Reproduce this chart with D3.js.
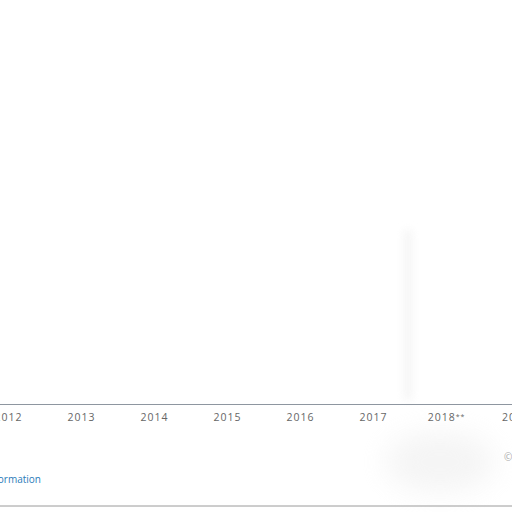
<!DOCTYPE html>
<html><head><meta charset="utf-8">
<script src="https://cdn.jsdelivr.net/npm/d3@7"></script>
<style>html,body{margin:0;padding:0;background:#fff;overflow:hidden}</style>
</head><body>
<svg id="c" width="512" height="512"></svg>
<script>
const categories = ["2011","2012","2013","2014","2015","2016","2017","2018**","2019*"];
const tickLabels = ["2012","2013","2014","2015","2016","2017","2018**","2019*"];
const footerLink = "Additional Information";
const footerCopy = "© Statista 2019";

const svg = d3.select("#c");
const defs = svg.append("defs");
defs.append("filter").attr("id","blur").attr("x","-60%").attr("y","-60%").attr("width","220%").attr("height","220%")
  .append("feGaussianBlur").attr("stdDeviation",14);
defs.append("filter").attr("id","blur2").attr("x","-200%").attr("y","-20%").attr("width","500%").attr("height","140%")
  .append("feGaussianBlur").attr("stdDeviation",4);
defs.append("filter").attr("id","sh").attr("x","-10%").attr("y","-200%").attr("width","120%").attr("height","500%")
  .append("feGaussianBlur").attr("stdDeviation",1.5);

const x = d3.scalePoint().domain(categories).range([-65, 519]);
const axisY = 404;

// faint smudges
svg.append("ellipse").attr("cx",440).attr("cy",462).attr("rx",55).attr("ry",30)
  .attr("fill","#e8e8e8").attr("filter","url(#blur)").attr("opacity",0.45);
svg.append("rect").attr("x",404).attr("y",230).attr("width",8).attr("height",170)
  .attr("fill","#f0f0f0").attr("filter","url(#blur2)").attr("opacity",0.7);

// axis line with soft shadow
svg.append("line").attr("x1",0).attr("x2",512).attr("y1",axisY+1).attr("y2",axisY+1)
  .attr("stroke","#ccc").attr("stroke-width",2).attr("filter","url(#sh)");
const axis = d3.axisBottom(x).tickValues(tickLabels).tickSize(0).tickPadding(10);
const g = svg.append("g").attr("transform",`translate(0,${axisY})`).call(axis);
g.select(".domain").attr("stroke","#8e96a0").attr("stroke-width",1.2);
g.selectAll(".tick text").attr("font-family","'Open Sans', sans-serif").attr("font-size",10.5)
  .attr("letter-spacing","1px").attr("fill","#666");
g.selectAll(".tick text").filter(d=>d==="2018**").each(function(){
  const t=d3.select(this); t.text("2018"); t.append("tspan").attr("font-size",7).attr("dy",-2).text("**");
});

// footer
svg.append("text").attr("x",41).attr("y",483).attr("text-anchor","end")
  .attr("font-family","'Open Sans', sans-serif").attr("font-size",10).attr("fill","#2b7bb9").text(footerLink);
svg.append("text").attr("x",504).attr("y",461)
  .attr("font-family","'Open Sans', sans-serif").attr("font-size",10).attr("fill","#aaa").text(footerCopy);

// bottom frame border with shadow
svg.append("line").attr("x1",0).attr("x2",512).attr("y1",507).attr("y2",507)
  .attr("stroke","#999").attr("stroke-width",2.5).attr("filter","url(#sh)");
svg.append("line").attr("x1",0).attr("x2",512).attr("y1",506).attr("y2",506)
  .attr("stroke","#9a9a9a").attr("stroke-width",1);
</script>
</body></html>
